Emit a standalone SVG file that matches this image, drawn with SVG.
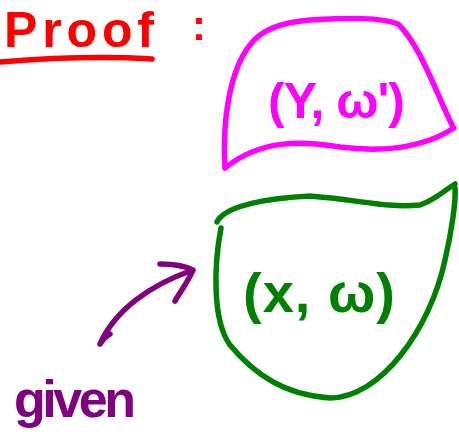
<svg xmlns="http://www.w3.org/2000/svg" width="459" height="443" viewBox="0 0 459 443">
<style>
.s{fill:none;stroke-width:5.5;stroke-linecap:round;stroke-linejoin:round}
.t{font-family:"Liberation Sans","DejaVu Sans",sans-serif;font-weight:bold}
</style>
<rect width="459" height="443" fill="#ffffff"/>
<g id="title">
<text class="t" x="4" y="47" font-size="50" fill="#ff0000" textLength="150" lengthAdjust="spacing">Proof</text>
<path class="s" stroke="#ff0000" d="M0 62 C50 58 100 56 152 59"/>
<text class="t" x="192" y="40" font-size="42" fill="#ff0000">:</text>
</g>
<g id="node-y">
<path class="s" stroke="#ff00ff" d="M225 168 C222 120 230 70 250 45 C262 28 285 22 310 20 C350 18 380 17 398 24 C420 45 435 90 452 125 M225 168 C260 140 300 140 340 147 C380 152 420 150 454 128"/>
<text class="t" x="268" y="118" font-size="50" fill="#ff00ff" textLength="137" lengthAdjust="spacing">(Y, ω')</text>
</g>
<g id="node-x">
<path class="s" stroke="#008000" d="M217 222 C225 205 270 198 310 196 C360 200 385 208 420 205 C435 200 445 190 455 184 M221 228 C214 265 212 320 230 345 C255 375 285 395 330 398 C380 398 430 330 445 260 C452 230 456 200 455 188"/>
<text class="t" x="243" y="312" font-size="56" fill="#008000" textLength="152" lengthAdjust="spacing">(x, ω)</text>
</g>
<g id="connectors">
<path class="s" stroke="#800080" d="M100 344 C115 310 150 285 193 270 M160 264 C175 264 185 266 193 270 C188 282 180 292 175 301 M100 344 C104 338 108 335 110 334"/>
</g>
<g id="label-given">
<text class="t" x="14" y="417" font-size="52" fill="#800080" textLength="122" lengthAdjust="spacing">given</text>
</g>
</svg>
